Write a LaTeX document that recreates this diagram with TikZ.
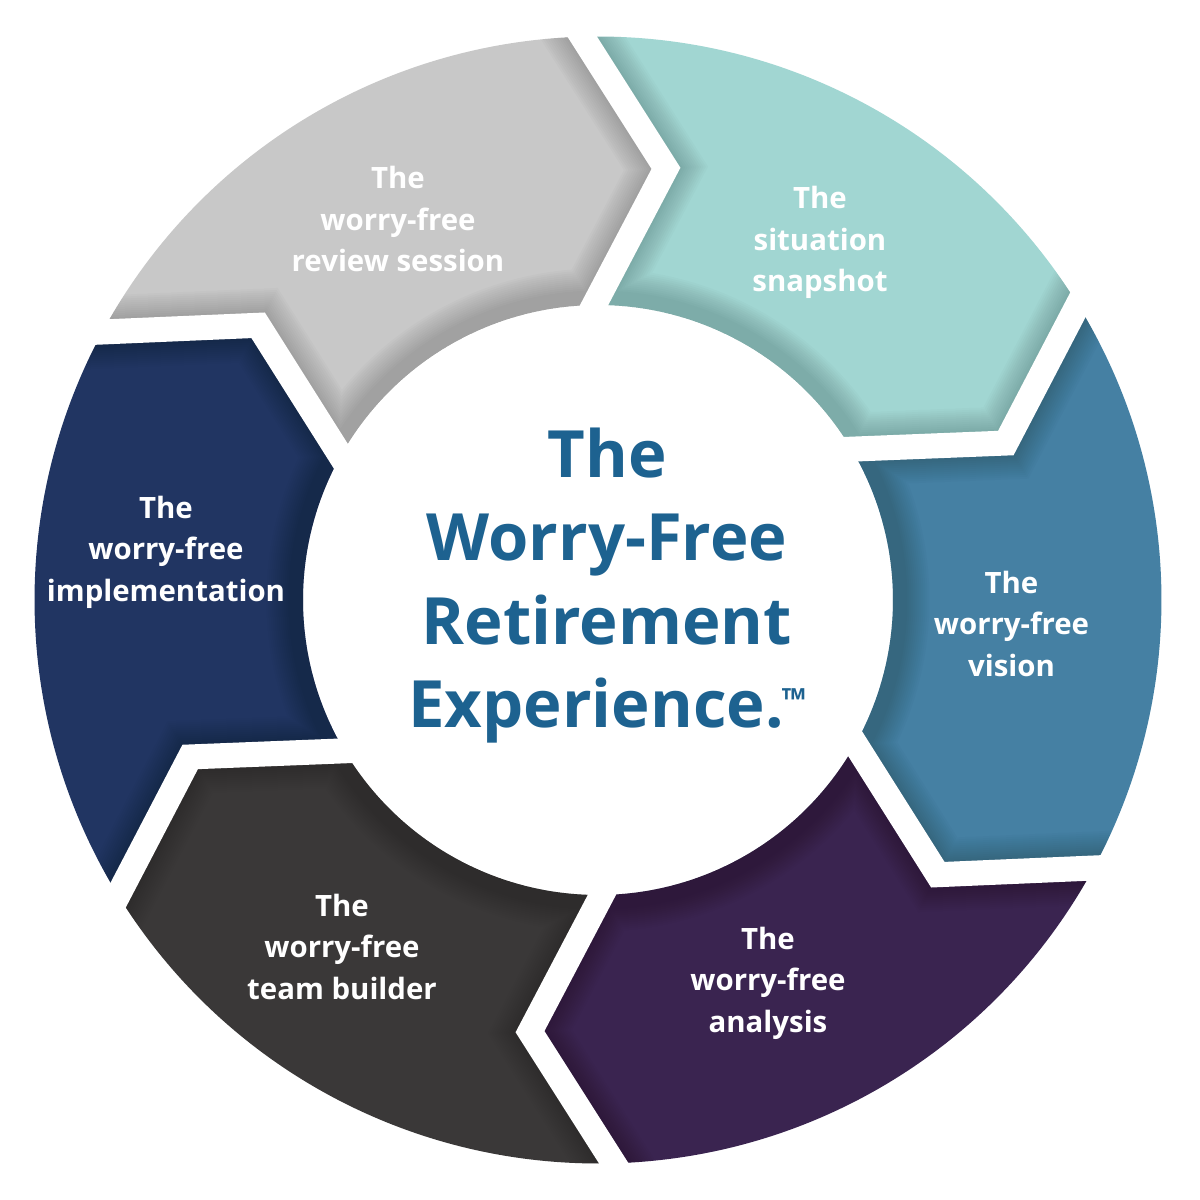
\documentclass[tikz,border=0pt]{standalone}
\usepackage{fontspec}
\setmainfont{Open Sans}
\usetikzlibrary{calc}
\definecolor{segGray}{HTML}{C8C8C8}
\definecolor{segTeal}{HTML}{A1D6D2}
\definecolor{segBlue}{HTML}{4580A3}
\definecolor{segPurple}{HTML}{3A2450}
\definecolor{segDark}{HTML}{3A3838}
\definecolor{segNavy}{HTML}{213562}
\definecolor{titleBlue}{HTML}{1D6290}
\def\Ro{563.5}
\def\Ri{295}
\def\Rt{437}
\newcommand\segpath{(\ia:\Ri) -- (\ta:\Rt) -- (\oa:\Ro)
     arc[start angle=\oa, end angle=\ob, radius=\Ro]
     -- (\tb:\Rt) -- (\ib:\Ri)
     arc[start angle=\ib, end angle=\ia, radius=\Ri] -- cycle}
\begin{document}
\begin{tikzpicture}[x=0.5pt,y=0.5pt,
  gapline/.style={draw=white, line width=12.5pt, line join=miter},
  seglabel/.style={text=white, align=center, anchor=base, inner sep=0pt,
    font=\bfseries\fontsize{14.7pt}{20.75pt}\selectfont},
  titlelabel/.style={text=titleBlue, align=center, anchor=base, inner sep=0pt,
    font=\bfseries\fontsize{32.6pt}{41.75pt}\selectfont}]
\useasboundingbox (-598,-600) rectangle (602,600);
\fill[white] (-598,-600) rectangle (602,600);
% ring segments with soft inner shading
\foreach \k/\col in {0/segTeal,1/segBlue,2/segPurple,3/segDark,4/segNavy,5/segGray}{
  \pgfmathsetmacro\oa{91.6-60*\k}
  \pgfmathsetmacro\ob{\oa-60}
  \pgfmathsetmacro\ta{81.05-60*\k}
  \pgfmathsetmacro\tb{\ta-60}
  \pgfmathsetmacro\ia{90.75-60*\k}
  \pgfmathsetmacro\ib{\ia-60}
  \fill[\col] \segpath;
  \coordinate (sTa) at (\ta:\Rt);
  \coordinate (sTb) at (\tb:\Rt);
  \coordinate (sOa) at (\oa:\Ro);
  \coordinate (sOb) at (\ob:\Ro);
  \coordinate (sIa) at (\ia:\Ri);
  \begin{scope}
    \clip \segpath;
    \foreach \s in {1,...,12}{
      \draw[black, opacity=0.016, line width=12.5pt+\s*2pt, line join=miter]
        ($(sTa)!1.4!(sOa)$) -- (sTa) -- (sIa)
        arc[start angle=\ia, end angle=\ib, radius=\Ri]
        -- (sTb) -- ($(sTb)!1.4!(sOb)$);
    }
  \end{scope}
}
% white chevron gaps
\foreach \k in {0,...,5}{
  \pgfmathsetmacro\oa{91.6-60*\k}
  \pgfmathsetmacro\ta{81.05-60*\k}
  \pgfmathsetmacro\ia{90.75-60*\k}
  \coordinate (tip\k) at (\ta:\Rt);
  \coordinate (out\k) at (\oa:\Ro);
  \coordinate (in\k) at (\ia:\Ri);
  \draw[gapline] ($(tip\k)!1.4!(out\k)$) -- (tip\k) -- ($(tip\k)!1.4!(in\k)$);
}
% labels (anchor base = baseline of last line)
\node[seglabel] (review) at (-200,328) {The\\worry-free\\review session};
\node[seglabel] (snapshot) at (222,308) {The\\situation\\snapshot};
\node[seglabel] (vision) at (413.5,-76) {The\\worry-free\\vision};
\node[seglabel] (analysis) at (170,-432) {The\\worry-free\\analysis};
\node[seglabel] (team) at (-256,-399) {The\\worry-free\\team builder};
\node[seglabel] (implement) at (-432,-1) {The\\worry-free\\implementation};
\node[titlelabel] (title) at (9,-127.5) {The\\Worry-Free\\Retirement\\Experience.\kern-1pt\raisebox{8pt}{\fontsize{16pt}{16pt}\selectfont ™}};
\end{tikzpicture}
\end{document}
